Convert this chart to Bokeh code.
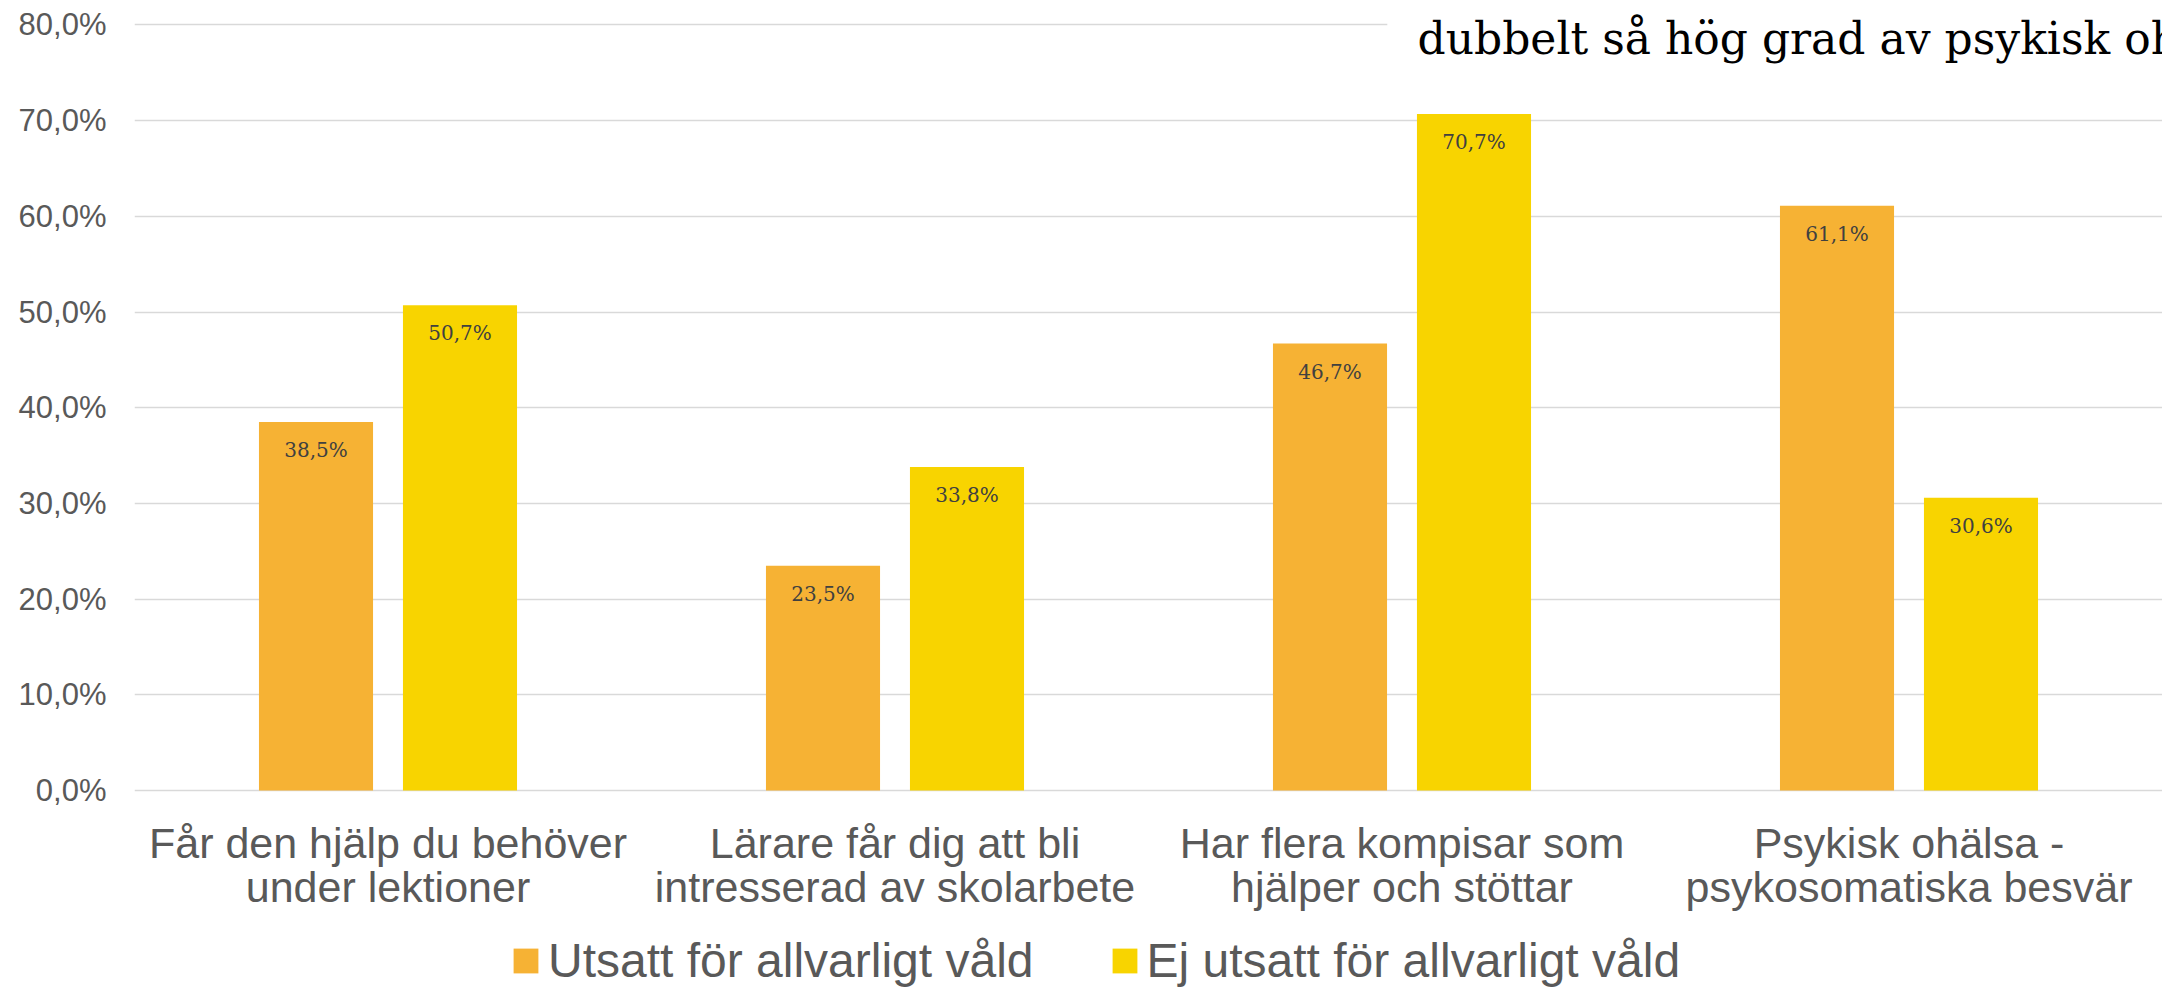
from bokeh.plotting import figure
from bokeh.models import (ColumnDataSource, FactorRange, Range1d, FixedTicker,
                          Legend, LegendItem, BoxAnnotation, Label)
from bokeh.transform import dodge
from bokeh.core.properties import value
from bokeh.embed import file_html
from bokeh.resources import INLINE

# ---- data ----
categories = [
    "Får den hjälp du behöver\nunder lektioner",
    "Lärare får dig att bli\nintresserad av skolarbete",
    "Har flera kompisar som\nhjälper och stöttar",
    "Psykisk ohälsa -\npsykosomatiska besvär",
]
series_names = ["Utsatt för allvarligt våld", "Ej utsatt för allvarligt våld"]
utsatt = [38.5, 23.5, 46.7, 61.1]
ej_utsatt = [50.7, 33.8, 70.7, 30.6]
y_ticks = [0, 10, 20, 30, 40, 50, 60, 70, 80]
y_tick_labels = ["0,0%", "10,0%", "20,0%", "30,0%", "40,0%", "50,0%", "60,0%", "70,0%", "80,0%"]
overlay_title = "dubbelt så hög grad av psykisk ohälsa"


def pct(v):
    return f"{v:.1f}%".replace(".", ",")


src = ColumnDataSource(dict(
    cat=categories,
    utsatt=utsatt,
    ej=ej_utsatt,
    utsatt_lbl=[pct(v) for v in utsatt],
    ej_lbl=[pct(v) for v in ej_utsatt],
))

ORANGE = "#F6B234"
YELLOW = "#F8D400"
GRID = "#D9D9D9"
AXIS_TXT = "#595959"
SANS = "Liberation Sans"
SERIF = "DejaVu Serif"

# frame spans the full canvas height; the area below 0 holds the
# category labels and the legend
p = figure(x_range=FactorRange(*categories, range_padding=0),
           y_range=Range1d(-20.89, 82.55),
           x_axis_location=None,
           frame_width=2028, frame_height=990,
           min_border_left=134, min_border_right=0,
           min_border_top=0, min_border_bottom=0,
           output_backend="svg", toolbar_location=None)

off = 0.142
bw = 0.225
r1 = p.vbar(x=dodge("cat", -off, range=p.x_range), top="utsatt", width=bw,
            source=src, fill_color=ORANGE, line_color=None)
r2 = p.vbar(x=dodge("cat", off, range=p.x_range), top="ej", width=bw,
            source=src, fill_color=YELLOW, line_color=None)

for xo, col, lbl in [(-off, "utsatt", "utsatt_lbl"), (off, "ej", "ej_lbl")]:
    p.text(x=dodge("cat", xo, range=p.x_range), y=col, text=lbl, source=src,
           text_align="center", text_baseline="middle", y_offset=28,
           text_font=value(SERIF), text_font_size="20px", text_color="#404040")

# category labels under the baseline
p.text(x="cat", y=0, text="cat", source=src, text_align="center",
       text_baseline="top", y_offset=28, text_font=value(SANS),
       text_font_size="43px", text_color=AXIS_TXT, text_line_height=0.92)

# overlay title fragment (top-right), with white box hiding the gridline
p.add_layout(BoxAnnotation(left=2.471, bottom=74.5, fill_color="white",
                           fill_alpha=1.0, line_alpha=0, level="annotation"))
p.add_layout(Label(x=2.5306, y=78.58, text=overlay_title, text_font=SERIF,
                   text_font_size="44px", text_color="black",
                   text_baseline="alphabetic"))

# y axis
p.yaxis.ticker = FixedTicker(ticks=y_ticks)
p.yaxis.major_label_overrides = dict(zip(y_ticks, y_tick_labels))
p.yaxis.axis_line_color = None
p.yaxis.major_tick_line_color = None
p.yaxis.minor_tick_line_color = None
p.yaxis.major_tick_out = 0
p.yaxis.major_tick_in = 0
p.yaxis.major_label_standoff = 28
p.yaxis.major_label_text_font = SANS
p.yaxis.major_label_text_font_size = "31px"
p.yaxis.major_label_text_color = AXIS_TXT

p.ygrid.ticker = FixedTicker(ticks=y_ticks)
p.ygrid.grid_line_color = GRID
p.ygrid.grid_line_width = 1.5
p.xgrid.grid_line_color = None
p.outline_line_color = None

legend = Legend(items=[LegendItem(label=series_names[0], renderers=[r1]),
                       LegendItem(label=series_names[1], renderers=[r2])],
                orientation="horizontal", location=(376, 2),
                label_text_font=SANS, label_text_font_size="48px",
                label_text_color=AXIS_TXT, glyph_width=31, glyph_height=31,
                label_standoff=7, spacing=75, padding=0, margin=0,
                border_line_alpha=0, background_fill_alpha=0)
p.add_layout(legend, "center")

open("out.html", "w").write(file_html(p, INLINE))
